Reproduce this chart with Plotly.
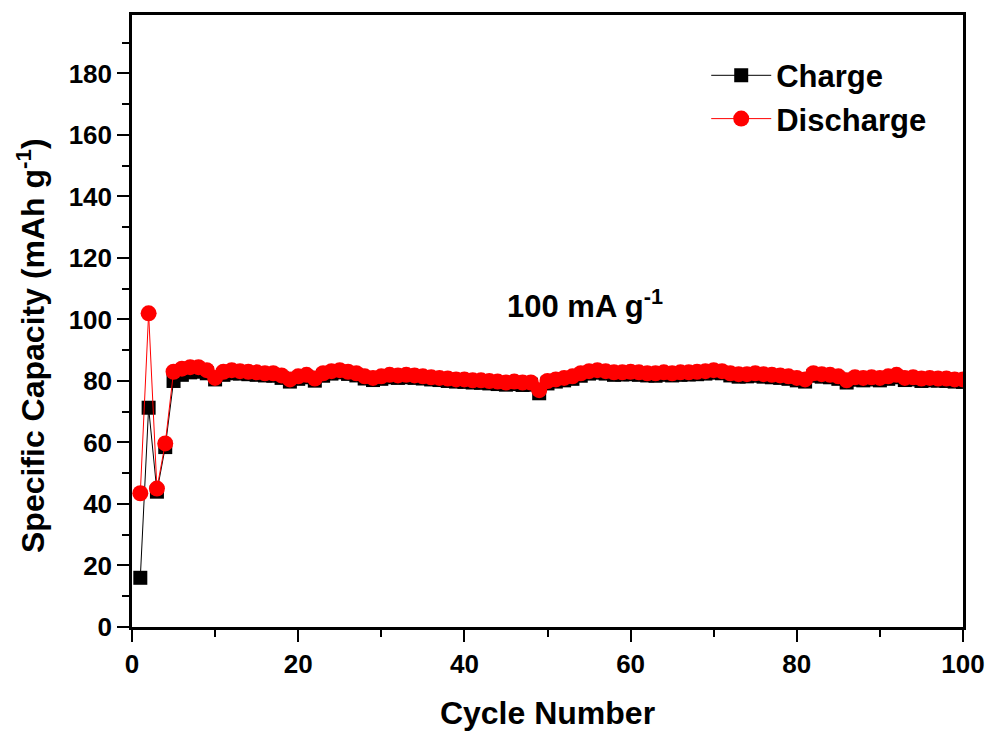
import plotly.graph_objects as go

cycles = list(range(1, 101))

charge = [16, 71.3, 44, 58.5, 80, 82, 82.8, 83, 82.5, 80.5,
          82, 82.5, 82.4, 82.2, 82, 81.8, 81.7, 81, 79.8, 80.7,
          81.2, 80.1, 81.7, 82.4, 82.8, 82.3, 81.8, 80.8, 80.3, 80.7,
          81.2, 81, 81.2, 81, 80.8, 80.5, 80.3, 80, 79.8, 79.7,
          79.5, 79.4, 79.2, 79, 78.8, 79, 78.7, 78.8, 76, 79.2,
          79.8, 80.2, 80.7, 81.7, 82.4, 82.7, 82.4, 82, 82.1, 82.2,
          82, 81.8, 81.7, 82, 81.8, 82, 82.1, 82.2, 82.4, 82.7,
          82.5, 81.8, 81.4, 81.5, 81.7, 81.4, 81.2, 81, 80.7, 80.2,
          79.8, 81.7, 81.4, 81.2, 80.7, 79.5, 80.4, 80.2, 80.5, 80.2,
          80.7, 81.2, 80.3, 80.5, 80, 80.2, 80.1, 80, 79.8, 79.7]

discharge = [43.5, 102, 45, 59.7, 83, 84, 84.5, 84.5, 83.5, 81,
             83, 83.5, 83.2, 83, 82.8, 82.5, 82.5, 81.8, 80.5, 81.5,
             82, 80.8, 82.5, 83.2, 83.5, 83, 82.5, 81.5, 81, 81.5,
             82, 81.8, 82, 81.8, 81.5, 81.2, 81, 80.8, 80.5, 80.5,
             80.2, 80.2, 80, 79.8, 79.5, 79.8, 79.5, 79.5, 77, 80,
             80.5, 81, 81.5, 82.5, 83.2, 83.5, 83.2, 82.8, 82.8, 83,
             82.8, 82.5, 82.5, 82.8, 82.5, 82.8, 82.8, 83, 83.2, 83.5,
             83.2, 82.5, 82.2, 82.2, 82.5, 82.2, 82, 81.8, 81.5, 81,
             80.5, 82.5, 82.2, 82, 81.5, 80.2, 81.2, 81, 81.2, 81,
             81.5, 82, 81, 81.2, 80.8, 81, 80.8, 80.8, 80.5, 80.5]

FONT = "Liberation Sans, Arial, sans-serif"

fig = go.Figure()
fig.add_trace(go.Scatter(
    x=cycles, y=charge, name="Charge", mode="lines+markers",
    line=dict(color="#000000", width=1),
    marker=dict(symbol="square", size=14, color="#000000"),
))
fig.add_trace(go.Scatter(
    x=cycles, y=discharge, name="Discharge", mode="lines+markers",
    line=dict(color="#ff0000", width=1),
    marker=dict(symbol="circle", size=16, color="#ff0000"),
))

axis_common = dict(
    showline=True, linecolor="black", linewidth=2.5, mirror=True,
    ticks="outside", ticklen=12, tickwidth=2, tickcolor="black",
    showgrid=False, zeroline=False, automargin=False,
    ticklabeloverflow="allow",
    tickfont=dict(family=FONT, size=26, color="black", weight="bold"),
)

fig.update_xaxes(
    range=[0, 100], tick0=0, dtick=20,
    minor=dict(ticks="outside", ticklen=7, tickwidth=2, tickcolor="black", dtick=10),
    title=dict(text="<b>Cycle Number</b>", font=dict(family=FONT, size=32, color="black"),
               standoff=24),
    **axis_common,
)
fig.update_yaxes(
    range=[0, 199], tick0=0, dtick=20,
    minor=dict(ticks="outside", ticklen=7, tickwidth=2, tickcolor="black", dtick=10),
    **axis_common,
)

# y-axis title (rotated text, slightly below the plot centre as in the reference)
fig.add_annotation(
    x=0, y=0.5, xref="paper", yref="paper",
    xanchor="center", yanchor="middle", xshift=-101, yshift=-25,
    textangle=-90, showarrow=False,
    text="<b>Specific Capacity (mAh g<sup>-1</sup>)</b>",
    font=dict(family=FONT, size=32, color="black"),
)

fig.add_annotation(
    x=54.5, y=105, xref="x", yref="y",
    text="<b>100 mA g<sup>-1</sup></b>", showarrow=False,
    font=dict(family=FONT, size=31, color="black"),
)

fig.update_layout(
    width=989, height=731,
    margin=dict(l=132, r=26, t=15, b=104),
    plot_bgcolor="white", paper_bgcolor="white",
    showlegend=True,
    hovermode=False,
    legend=dict(
        x=0.691, y=0.945, xanchor="left", yanchor="top",
        bgcolor="rgba(0,0,0,0)", borderwidth=0,
        font=dict(family=FONT, size=31, color="black", weight="bold"),
        itemwidth=60, tracegroupgap=0,
    ),
)

fig.write_html(
    "out.html",
    config={"displayModeBar": False},
    post_script="document.body.style.margin='0';document.body.style.overflow='hidden';",
)
